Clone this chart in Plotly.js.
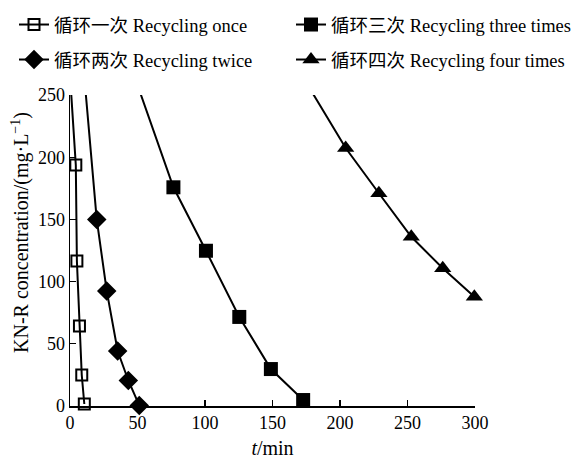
<!DOCTYPE html>
<html>
<head>
<meta charset="utf-8">
<script src="https://cdn.plot.ly/plotly-3.0.1.min.js"></script>
<style>html,body{margin:0;padding:0;background:#fff;}#chart{width:574px;height:459px;}</style>
</head>
<body>
<div id="chart"></div>
<script>
// t (min) and KN-R concentration (mg/L); first point of each series lies above the axis range (line entry)
const tOnce = [0, 4.3, 5.1, 7.0, 8.7, 10.6];
const cOnce = [266, 193.7, 116.6, 64.3, 24.9, 1.6];
const tTwice = [10, 19.8, 27.2, 35.3, 43.2, 51.3];
const cTwice = [272, 150, 92.5, 44.2, 20.5, 0.5];
const tThree = [50, 76.6, 100.7, 125.4, 148.8, 172.7];
const cThree = [258, 175.8, 124.8, 71.6, 29.7, 4.8];
const tFour = [175, 204.2, 228.8, 252.8, 276.1, 299.5];
const cFour = [260, 207.4, 171, 136, 110.7, 87.9];
const names = ['循环一次 Recycling once', '循环两次 Recycling twice', '循环三次 Recycling three times', '循环四次 Recycling four times'];
const xTicks = [0, 50, 100, 150, 200, 250, 300];
const yTicks = [0, 50, 100, 150, 200, 250];

const FONT = '"Liberation Serif", "Times New Roman", "Noto Sans CJK SC", serif';
const line = {color: '#000', width: 2};
const traces = [
  {x: tOnce, y: cOnce, name: names[0], legend: 'legend',
   marker: {symbol: 'square-open', size: 11, color: '#000', line: {width: 2, color: '#000'}}},
  {x: tTwice, y: cTwice, name: names[1], legend: 'legend2',
   marker: {symbol: 'diamond', size: 15, color: '#000'}},
  {x: tThree, y: cThree, name: names[2], legend: 'legend3',
   marker: {symbol: 'square', size: 14, color: '#000'}},
  {x: tFour, y: cFour, name: names[3], legend: 'legend4',
   marker: {symbol: 'triangle-up', size: 15, color: '#000'}}
].map(t => Object.assign({type: 'scatter', mode: 'lines+markers', line: line, cliponaxis: false}, t));

function leg(px, py) {
  return {
    orientation: 'h', xref: 'container', yref: 'container',
    x: px / 574, xanchor: 'left', y: 1 - py / 459, yanchor: 'middle',
    font: {family: FONT, size: 18.5, color: '#000'},
    bgcolor: 'rgba(0,0,0,0)', borderwidth: 0
  };
}

const layout = {
  width: 574, height: 459,
  margin: {l: 70, r: 99, t: 95, b: 53},
  paper_bgcolor: '#fff', plot_bgcolor: '#fff',
  font: {family: FONT, size: 17, color: '#000'},
  showlegend: true,
  legend: leg(14, 25),
  legend3: leg(291, 25),
  legend2: leg(14, 60),
  legend4: leg(291, 60),
  xaxis: {
    range: [0, 300], tickvals: xTicks, ticktext: xTicks.map(String),
    ticks: 'inside', ticklen: 6, tickwidth: 1.2, tickcolor: '#000',
    showline: true, linecolor: '#000', linewidth: 1.5, mirror: false,
    showgrid: false, zeroline: false,
    tickfont: {family: FONT, size: 18, color: '#000'},
    title: {text: '<i>t</i>/min', font: {family: FONT, size: 20, color: '#000'}, standoff: 10}
  },
  yaxis: {
    range: [0, 250], tickvals: yTicks, ticktext: yTicks.map(String),
    ticks: 'inside', ticklen: 6, tickwidth: 1.2, tickcolor: '#000',
    showline: true, linecolor: '#000', linewidth: 1.5, mirror: false,
    showgrid: false, zeroline: false,
    tickfont: {family: FONT, size: 18, color: '#000'}
  },
  annotations: [{
    text: 'KN-R concentration/(mg·L<sup>−1</sup>)',
    xref: 'paper', yref: 'paper', x: 0, xshift: -50, y: (406 - 233) / 311,
    xanchor: 'center', yanchor: 'middle', textangle: -90, showarrow: false,
    font: {family: FONT, size: 20, color: '#000'}
  }]
};

Plotly.newPlot('chart', traces, layout, {displayModeBar: false, staticPlot: true});
</script>
</body>
</html>
